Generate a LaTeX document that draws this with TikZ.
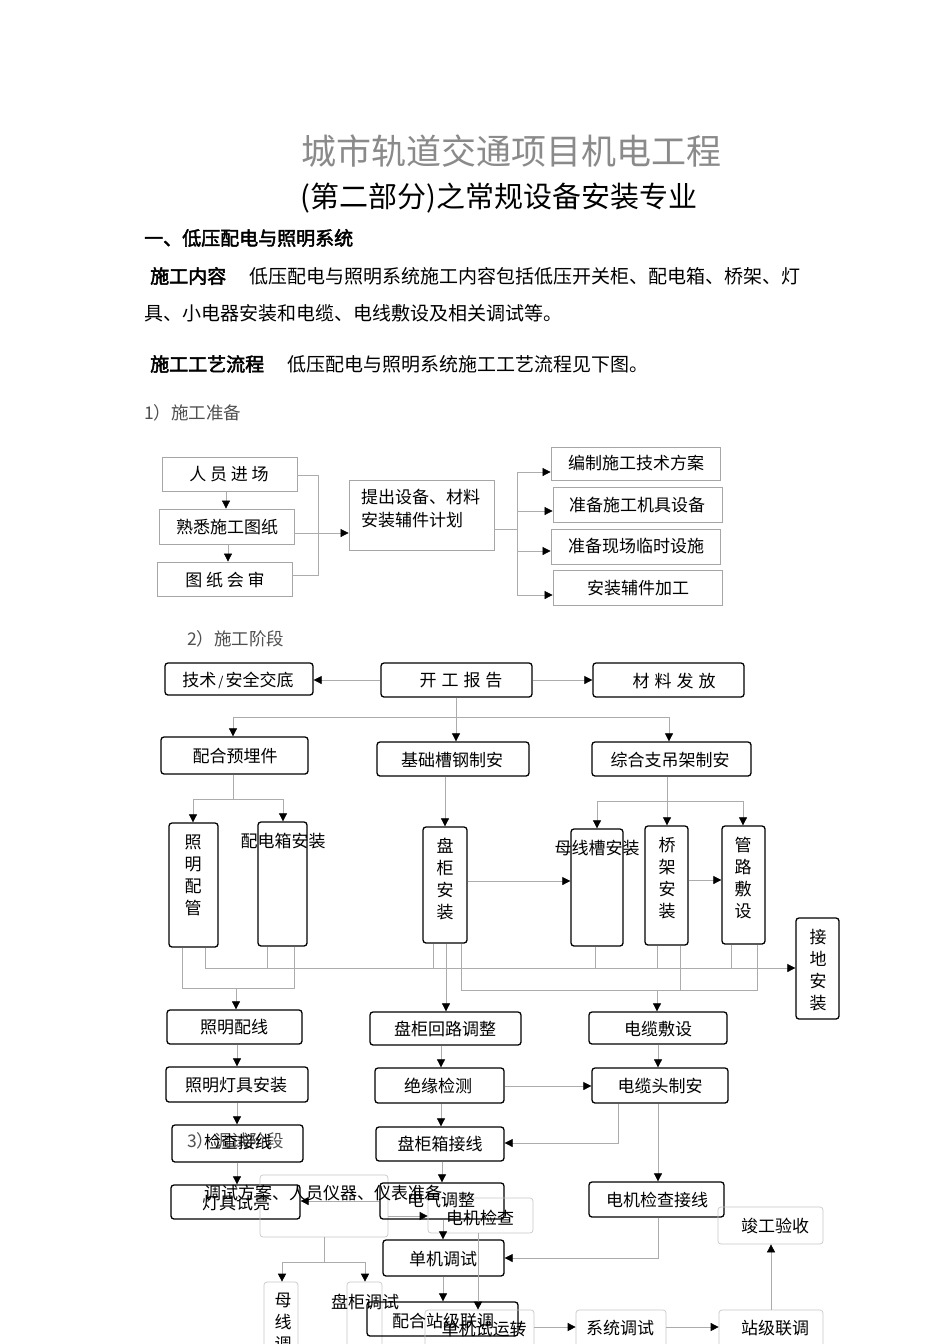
\documentclass[tikz,border=0pt]{standalone}
\usepackage{fontspec}
\setmainfont{Noto Sans CJK SC}
\newfontfamily\cjkb{Noto Sans CJK SC}[FakeBold=2.5]
\newfontfamily\song{Noto Sans CJK SC}
\usetikzlibrary{arrows.meta}
\definecolor{lncol}{HTML}{ACACAC}
\definecolor{gbcol}{HTML}{A6A6A6}
\definecolor{lbcol}{HTML}{C8C8C8}
\definecolor{titlecol}{HTML}{8A8A8A}
\definecolor{labcol}{HTML}{505050}
\newcommand{\mkbox}[6]{\node[#1, minimum width={(#5-#3)*1pt}, minimum height={(#6-#4)*1pt}] (#2) at ({(#3+#5)/2},{(#4+#6)/2}) {};}
\tikzset{
  ln/.style={draw=lncol, line width=0.7pt},
  arr/.style={draw=lncol, line width=0.7pt, -{Triangle[length=8pt,width=8pt,color=black]}},
  gbox/.style={draw=gbcol, line width=0.8pt, inner sep=0pt},
  bbox/.style={draw=black, line width=1.3pt, rounded corners=3pt, inner sep=0pt},
  lbox/.style={draw=lbcol, line width=0.7pt, rounded corners=3pt, inner sep=0pt},
  tx/.style={font=\fontsize{17}{22}\selectfont, inner sep=0pt, align=center},
  body/.style={font=\fontsize{19}{22}\selectfont, inner sep=0pt, anchor=west},
  bodyb/.style={font=\cjkb\fontsize{19}{22}\selectfont, inner sep=0pt, anchor=west},
  lab/.style={font=\song\fontsize{17.5}{22}\selectfont, text=labcol, inner sep=0pt, anchor=west}
}
\begin{document}
\begin{tikzpicture}[x=1pt,y=-1pt]
\useasboundingbox (0,0) rectangle (950,1344);
\fill[white] (0,0) rectangle (950,1344);

% ---------- header text ----------
\node[font=\fontsize{35}{40}\selectfont, text=titlecol, inner sep=0pt] (title) at (511,151) {城市轨道交通项目机电工程};
\node[font=\fontsize{29}{34}\selectfont, inner sep=0pt] (subtitle) at (499,198) {(第二部分)之常规设备安装专业};
\node[bodyb] (h1) at (144,238) {一、低压配电与照明系统};
\node[bodyb] (c1) at (150,276) {施工内容};
\node[body] (c2) at (249,276) {低压配电与照明系统施工内容包括低压开关柜、配电箱、桥架、灯};
\node[body] (c3) at (144,313) {具、小电器安装和电缆、电线敷设及相关调试等。};
\node[bodyb] (f1) at (150,364) {施工工艺流程};
\node[body] (f2) at (287,364) {低压配电与照明系统施工工艺流程见下图。};
\node[lab] (l1) at (144,413) {1）施工准备};
\node[lab] (l2) at (187,639) {2）施工阶段};

% ---------- section 1 ----------
\mkbox{gbox}{p1}{162}{457}{297}{491}
\mkbox{gbox}{p2}{159}{509}{294}{544}
\mkbox{gbox}{p3}{157}{562}{292}{596}
\mkbox{gbox}{p4}{349}{480}{494}{550}
\mkbox{gbox}{p5}{551}{447}{720}{480}
\mkbox{gbox}{p6}{553}{487}{722}{522}
\mkbox{gbox}{p7}{551}{529}{720}{564}
\mkbox{gbox}{p8}{553}{570}{722}{605}
\node[tx] (p1t) at (229,474) {人\hspace{3.7pt}员\hspace{3.7pt}进\hspace{3.7pt}场};
\node[tx] (p2t) at (227,527) {熟悉施工图纸};
\node[tx] (p3t) at (225,580) {图\hspace{3.7pt}纸\hspace{3.7pt}会\hspace{3.7pt}审};
\node[tx, anchor=west] (p4a) at (361,497) {提出设备、材料};
\node[tx, anchor=west] (p4b) at (361,520) {安装辅件计划};
\node[tx] (p5t) at (636,463) {编制施工技术方案};
\node[tx] (p6t) at (637,505) {准备施工机具设备};
\node[tx] (p7t) at (636,546) {准备现场临时设施};
\node[tx] (p8t) at (638,588) {安装辅件加工};

\draw[arr] (p1.south -| 226,0) -- (p2.north -| 226,0);
\draw[arr] (p2.south -| 228,0) -- (p3.north -| 228,0);
\draw[ln] (p1.east |- 0,475) -- (318,475) -- (318,575) -- (p3.east |- 0,575);
\draw[arr] (p2.east |- 0,533) -- (p4.west |- 0,533);
\draw[ln] (p4.east |- 0,529) -- (517,529);
\draw[ln] (517,472) -- (517,595);
\draw[arr] (517,472) -- (p5.west |- 0,472);
\draw[arr] (517,511) -- (p6.west |- 0,511);
\draw[arr] (517,551) -- (p7.west |- 0,551);
\draw[arr] (517,595) -- (p8.west |- 0,595);

% ---------- section 2 ----------
\mkbox{bbox}{q1}{165}{663}{313}{695}
\mkbox{bbox}{q2}{381}{663}{532}{697}
\mkbox{bbox}{q3}{593}{663}{744}{697}
\mkbox{bbox}{q4}{161}{737}{308}{774}
\mkbox{bbox}{q5}{377}{742}{529}{776}
\mkbox{bbox}{q6}{592}{742}{751}{776}
\node[tx] (q1t) at (238,680) {技术\hspace{2pt}{\fontsize{13}{13}\selectfont /}\hspace{2pt}安全交底};
\node[tx] (q2t) at (461,680) {开\hspace{5pt}工\hspace{5pt}报\hspace{5pt}告};
\node[tx] (q3t) at (674,681) {材\hspace{5pt}料\hspace{5pt}发\hspace{5pt}放};
\node[tx] (q4t) at (235,756) {配合预埋件};
\node[tx] (q5t) at (452,760) {基础槽钢制安};
\node[tx] (q6t) at (670,760) {综合支吊架制安};

\mkbox{bbox}{r1}{169}{823}{218}{947}
\mkbox{bbox}{r2}{258}{822}{307}{946}
\mkbox{bbox}{r3}{423}{827}{467}{943}
\mkbox{bbox}{r4}{571}{829}{623}{946}
\mkbox{bbox}{r5}{645}{826}{688}{945}
\mkbox{bbox}{r6}{722}{826}{765}{944}
\mkbox{bbox}{r7}{796}{918}{839}{1019}
\node[tx] (r1t) at (193,875) {照\\明\\配\\管};
\node[tx] (r2t) at (283,841) {配电箱安装};
\node[tx] (r3t) at (445,879) {盘\\柜\\安\\装};
\node[tx] (r4t) at (597,848) {母线槽安装};
\node[tx] (r5t) at (667,878) {桥\\架\\安\\装};
\node[tx] (r6t) at (743,878) {管\\路\\敷\\设};
\node[tx] (r7t) at (818,970) {接\\地\\安\\装};

\draw[arr] (q2.west |- 0,680) -- (q1.east |- 0,680);
\draw[arr] (q2.east |- 0,680) -- (q3.west |- 0,680);
\draw[ln] (q2.south -| 456,0) -- (456,717);
\draw[ln] (233,717) -- (669,717);
\draw[arr] (233,717) -- (q4.north -| 233,0);
\draw[arr] (456,717) -- (q5.north -| 456,0);
\draw[arr] (669,717) -- (q6.north -| 669,0);
\draw[ln] (q4.south -| 233,0) -- (233,799);
\draw[ln] (193,799) -- (283,799);
\draw[arr] (193,799) -- (r1.north -| 193,0);
\draw[arr] (283,799) -- (r2.north -| 283,0);
\draw[arr] (q5.south -| 445,0) -- (r3.north -| 445,0);
\draw[ln] (q6.south -| 667,0) -- (667,801);
\draw[ln] (597,801) -- (743,801);
\draw[arr] (597,801) -- (r4.north -| 597,0);
\draw[arr] (667,801) -- (r5.north -| 667,0);
\draw[arr] (743,801) -- (r6.north -| 743,0);
\draw[arr] (r3.east |- 0,881) -- (r4.west |- 0,881);
\draw[arr] (r5.east |- 0,880) -- (r6.west |- 0,880);
\draw[arr] (205,968) -- (r7.west |- 0,968);
\foreach \n/\x in {r1/205, r2/267, r3/433, r4/595, r5/657, r6/731}
  \draw[ln] (\n.south -| \x,0) -- (\x,968);
\draw[ln] (r1.south -| 182,0) -- (182,988) -- (294,988) -- (r2.south -| 294,0);
\draw[ln] (r3.south -| 461,0) -- (461,990) -- (757,990) -- (r6.south -| 757,0);
\draw[ln] (r5.south -| 680,0) -- (680,990);

\mkbox{bbox}{s1}{167}{1010}{302}{1044}
\mkbox{bbox}{s2}{370}{1012}{521}{1045}
\mkbox{bbox}{s3}{589}{1012}{727}{1044}
\mkbox{bbox}{s4}{166}{1067}{308}{1102}
\mkbox{bbox}{s5}{375}{1068}{504}{1103}
\mkbox{bbox}{s6}{592}{1068}{728}{1103}
\mkbox{bbox}{s7}{172}{1125}{303}{1162}
\mkbox{bbox}{s8}{376}{1127}{504}{1161}
\node[tx] (s1t) at (234,1027) {照明配线};
\node[tx] (s2t) at (445,1029) {盘柜回路调整};
\node[tx] (s3t) at (658,1029) {电缆敷设};
\node[tx] (s4t) at (236,1085) {照明灯具安装};
\node[tx] (s5t) at (438,1086) {绝缘检测};
\node[tx] (s6t) at (660,1086) {电缆头制安};
\node[lab] (l3) at (187,1141) {3）调试阶段};
\node[tx] (s7t) at (238,1142) {检查接线};
\node[tx] (s8t) at (440,1144) {盘柜箱接线};

\draw[arr] (236,988) -- (s1.north -| 236,0);
\draw[arr] (r3.south -| 446,0) -- (s2.north -| 446,0);
\draw[arr] (657,990) -- (s3.north -| 657,0);
\draw[arr] (s1.south -| 237,0) -- (s4.north -| 237,0);
\draw[arr] (s4.south -| 237,0) -- (s7.north -| 237,0);
\draw[arr] (s2.south -| 441,0) -- (s5.north -| 441,0);
\draw[arr] (s5.south -| 441,0) -- (s8.north -| 441,0);
\draw[arr] (s3.south -| 658,0) -- (s6.north -| 658,0);
\draw[arr] (s5.east |- 0,1086) -- (s6.west |- 0,1086);
\draw[arr] (s6.south -| 618,0) -- (618,1143) -- (s8.east |- 0,1143);

% ---------- section 3 ----------
\mkbox{bbox}{t1}{171}{1185}{300}{1219}
\mkbox{lbox}{t2}{260}{1175}{388}{1237}
\mkbox{bbox}{t3}{380}{1183}{504}{1219}
\mkbox{lbox}{t4}{428}{1198}{533}{1233}
\mkbox{bbox}{t5}{383}{1240}{504}{1276}
\mkbox{bbox}{t6}{589}{1182}{724}{1217}
\mkbox{lbox}{t7}{264}{1282}{298}{1362}
\mkbox{lbox}{t8}{347}{1282}{382}{1362}
\mkbox{bbox}{u1}{367}{1302}{518}{1336}
\mkbox{lbox}{u2}{425}{1310}{534}{1362}
\mkbox{lbox}{u3}{576}{1310}{666}{1362}
\mkbox{lbox}{u4}{719}{1310}{823}{1362}
\mkbox{lbox}{u5}{718}{1207}{823}{1244}
\node[tx] (t1t) at (236,1203) {灯具试亮};
\node[tx] (t2t) at (323,1193) {调试方案、人员仪器、仪表准备};
\node[tx] (t3t) at (441,1200) {电气调整};
\node[tx] (t4t) at (480,1218) {电机检查};
\node[tx] (t5t) at (443,1259) {单机调试};
\node[tx] (t6t) at (657,1200) {电机检查接线};
\node[tx] (t7t) at (283,1333) {母\\线\\调\\试};
\node[tx] (t8t) at (365,1302) {盘柜调试};
\node[tx] (u1t) at (443,1321) {配合站级联调};
\node[tx] (u2t) at (484,1329) {单机试运转};
\node[tx] (u3t) at (620,1328) {系统调试};
\node[tx] (u4t) at (775,1328) {站级联调};
\node[tx] (u5t) at (775,1226) {竣工验收};

\draw[arr] (s6.south -| 658,0) -- (t6.north -| 658,0);
\draw[arr] (s7.south -| 237,0) -- (t1.north -| 237,0);
\draw[arr] (s8.south -| 442,0) -- (t3.north -| 442,0);
\draw[arr] (t3.west |- 0,1201) -- (t1.east |- 0,1201);
\draw[arr] (t2.east |- 0,1216) -- (t4.west |- 0,1216);
\draw[arr] (t3.south -| 443,0) -- (t5.north -| 443,0);
\draw[arr] (t6.south -| 658,0) -- (658,1258) -- (t5.east |- 0,1258);
\draw[arr] (t4.south -| 478,0) -- (u2.north -| 478,0);
\draw[ln] (t2.south -| 324,0) -- (324,1262);
\draw[ln] (282,1262) -- (365,1262);
\draw[arr] (282,1262) -- (t7.north -| 282,0);
\draw[arr] (365,1262) -- (t8.north -| 365,0);
\draw[arr] (t5.south -| 443,0) -- (u1.north -| 443,0);
\draw[arr] (u2.east |- 0,1327) -- (u3.west |- 0,1327);
\draw[arr] (u3.east |- 0,1327) -- (u4.west |- 0,1327);
\draw[arr] (u4.north -| 771,0) -- (u5.south -| 771,0);
\end{tikzpicture}
\end{document}
